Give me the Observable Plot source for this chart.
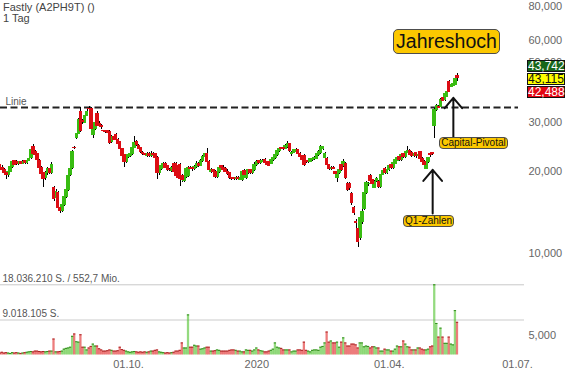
<!DOCTYPE html>
<html><head><meta charset="utf-8">
<script src="https://cdn.jsdelivr.net/npm/d3@7"></script>
<script src="https://cdn.jsdelivr.net/npm/@observablehq/plot@0.6"></script>
<style>
body{margin:0;background:#fff;}
#wrap{position:relative;width:568px;height:375px;overflow:hidden;font-family:"Liberation Sans",Arial,sans-serif;background:#fff;}
#wrap svg{position:absolute;left:0;overflow:visible;background:transparent;}
.t{position:absolute;color:#444;font-size:11px;line-height:11px;white-space:nowrap;}
.box{position:absolute;background:#fcc800;border:1px solid #4d4d4d;border-radius:4px;text-align:center;color:#111;white-space:nowrap;box-sizing:border-box;}
.q{position:absolute;left:527px;width:38px;height:12px;font-size:12px;line-height:11px;text-align:center;box-sizing:border-box;border:1px solid #111;}
</style></head><body><div id="wrap"></div>
<script>
const title = "Fastly (A2PH9T) ()";
const period = "1 Tag";
const startDate = "2019-07-04";
const endDate = "2020-07-01";
const holidays = ["2019-12-24","2019-12-25","2019-12-26","2019-12-31","2020-01-01","2020-04-10","2020-04-13","2020-05-01"];
// [open, high, low, close], one row per trading day
const candles = [
[20.6,21.3,20.3,21.0],[21.0,21.2,20.3,20.5],[20.6,20.9,19.9,20.2],[20.2,20.4,19.4,19.6],[19.7,19.8,18.6,19.3],
[19.3,20.1,19.0,19.9],[19.9,20.9,19.8,20.7],[20.7,21.8,20.5,21.6],[21.7,21.9,20.9,21.1],[21.6,21.8,21.0,21.2],
[21.2,21.7,21.0,21.5],[21.5,21.7,21.1,21.3],[21.3,21.8,21.1,21.6],[21.7,21.9,21.2,21.4],[21.4,22.0,21.2,21.8],
[21.8,22.4,21.6,22.2],[22.3,24.2,22.1,23.8],[24.4,25.0,22.8,23.0],[23.4,23.8,22.6,22.9],[23.0,23.2,21.6,21.9],
[21.8,22.0,20.4,20.6],[20.6,20.8,19.3,19.5],[19.6,19.8,17.4,18.7],[18.8,19.9,18.5,19.6],[19.6,20.6,19.3,20.3],
[20.3,20.5,19.4,19.6],[19.7,21.4,19.5,21.0],[17.3,17.5,15.5,15.8],[15.9,17.1,15.6,16.8],[16.6,16.8,14.4,14.7],
[14.7,15.1,14.0,14.3],[14.3,15.3,14.1,15.0],[15.0,16.4,14.9,16.1],[16.1,17.3,15.9,17.0],[17.0,19.4,16.8,19.1],
[19.3,20.6,19.1,20.4],[20.5,23.7,20.3,23.4],[24.3,24.5,24.0,24.2],[26.4,27.5,26.1,27.3],[27.4,31.2,27.2,30.8],
[32.9,34.0,27.6,28.0],[30.5,30.8,29.5,30.2],[30.0,32.2,29.8,31.8],[31.8,33.4,31.5,32.8],[33.8,34.4,33.0,33.6],
[33.6,34.0,28.2,28.5],[27.0,28.6,26.2,28.3],[28.5,30.4,28.2,30.0],[32.3,33.0,29.0,29.3],[29.8,30.2,28.8,29.1],
[29.3,29.5,28.4,28.9],[28.0,28.2,27.6,27.9],[27.9,28.1,27.5,27.8],[27.9,28.2,27.4,27.6],[27.8,28.0,25.0,25.3],
[25.6,26.9,25.3,26.6],[26.6,27.0,25.8,26.0],[27.0,27.3,25.7,26.0],[26.0,26.3,25.0,25.2],[25.5,25.7,23.8,24.1],
[24.0,24.2,22.3,22.6],[22.8,23.0,20.6,21.6],[21.6,22.8,21.3,22.5],[22.5,23.1,22.2,22.9],[22.6,23.3,22.4,23.1],
[23.0,24.6,22.8,24.3],[24.3,26.7,24.1,25.4],[25.5,25.9,24.5,24.8],[24.6,24.9,23.9,24.1],[24.2,24.4,23.2,23.4],
[23.3,23.5,22.8,23.0],[23.0,23.2,22.7,22.9],[22.7,23.3,22.4,23.0],[23.1,23.4,22.4,22.7],[22.7,23.5,22.5,23.1],
[23.1,23.4,22.6,22.8],[23.0,23.2,22.0,22.3],[22.4,22.6,18.7,19.6],[19.6,20.6,19.3,20.3],[20.3,21.0,20.1,20.8],
[20.8,21.5,20.5,21.3],[21.2,21.4,20.4,20.6],[20.8,21.0,19.9,20.1],[20.2,20.4,19.9,20.1],[20.0,20.7,19.8,20.5],
[21.2,21.5,19.6,19.8],[21.3,21.5,19.0,19.2],[20.9,21.2,18.6,18.9],[21.0,21.3,17.6,18.7],[19.2,19.5,18.2,18.5],
[18.4,19.3,18.1,19.1],[19.0,20.5,18.8,20.3],[19.2,20.8,19.0,20.5],[20.5,20.7,20.2,20.4],[20.6,20.8,20.0,20.3],
[20.3,20.9,20.1,20.7],[20.7,21.6,20.5,21.3],[21.3,21.5,20.6,20.9],[20.9,22.0,20.7,21.8],[21.7,22.8,21.5,22.5],
[22.5,23.2,22.2,23.0],[23.0,24.2,21.3,21.6],[21.6,21.8,20.0,20.2],[19.9,20.5,19.6,20.2],[20.1,20.3,19.6,19.8],
[19.9,20.1,18.8,19.0],[19.0,20.1,18.8,19.8],[19.8,20.8,19.6,20.5],[20.8,21.0,20.3,20.5],[20.6,20.9,20.0,20.2],
[20.3,20.6,19.7,19.9],[19.9,20.2,19.3,19.5],[19.6,19.8,18.7,18.9],[18.8,18.9,18.4,18.7],[18.8,19.0,18.5,18.7],
[18.7,19.1,18.5,18.9],[18.9,19.1,18.5,18.7],[18.6,19.2,18.4,18.9],[18.5,20.1,18.3,19.8],[20.0,20.2,19.1,19.3],
[18.9,20.0,18.6,19.8],[19.8,20.3,19.5,20.1],[20.1,20.3,19.4,19.6],[19.6,20.4,19.4,20.2],[20.2,21.4,20.0,21.1],
[21.0,21.8,20.7,21.6],[21.7,21.9,21.2,21.4],[21.4,22.0,21.2,21.7],[21.6,22.0,21.4,21.8],[21.9,22.2,21.2,21.4],
[21.5,21.7,20.9,21.1],[21.6,21.8,20.7,20.9],[21.3,22.2,21.1,21.9],[21.9,22.5,21.7,22.3],[22.3,23.1,22.1,22.9],
[22.8,23.8,22.6,23.6],[23.6,24.3,23.4,24.0],[24.2,24.4,23.9,24.1],[24.3,24.6,23.8,24.0],[24.1,25.0,23.9,24.7],
[24.4,25.6,24.2,25.0],[25.0,25.2,23.4,23.6],[23.0,23.6,22.6,23.3],[23.3,24.0,23.1,23.8],[23.5,24.1,23.2,23.9],
[23.8,24.0,22.9,23.1],[23.1,23.3,22.3,22.5],[22.6,22.8,21.8,22.0],[22.7,22.9,20.7,21.0],[21.7,21.9,21.3,21.6],
[21.5,22.0,21.3,21.7],[21.6,22.3,21.4,22.1],[21.9,22.5,21.7,22.2],[22.1,22.6,21.9,22.4],[22.2,23.2,22.0,23.0],
[22.8,23.8,22.6,23.5],[23.2,24.8,23.0,24.5],[24.0,24.6,23.8,24.4],[22.4,23.3,22.2,23.0],[22.2,22.4,20.8,21.1],
[21.0,21.2,20.1,20.3],[20.3,20.7,20.1,20.5],[20.6,20.8,20.2,20.4],[19.8,20.0,19.3,19.5],[18.8,19.7,18.1,19.5],
[19.6,20.4,19.4,20.2],[21.0,21.2,20.0,20.2],[20.8,22.1,20.6,21.6],[21.2,21.4,18.7,18.9],[18.0,18.2,16.8,17.0],
[18.0,18.1,17.0,17.3],[16.5,16.7,15.0,15.3],[14.7,14.9,13.8,14.0],[13.0,13.3,12.1,12.9],[12.3,12.5,10.5,11.0],
[11.4,13.7,11.2,13.5],[13.0,14.5,12.8,14.2],[14.5,16.9,14.3,16.6],[16.6,18.3,16.4,18.1],[17.9,18.2,17.6,18.0],
[19.2,19.5,18.2,18.4],[18.5,18.7,17.8,18.0],[17.4,18.5,17.2,18.3],[18.4,18.9,18.2,18.7],[18.2,18.4,17.3,17.5],
[17.5,19.5,17.3,19.3],[19.4,20.3,19.2,20.0],[20.4,20.6,19.5,19.7],[19.6,20.4,19.4,20.2],[20.1,21.0,19.9,20.8],
[21.0,21.2,20.3,20.5],[20.5,21.6,20.3,21.4],[21.3,22.1,21.1,21.9],[21.8,22.6,21.6,22.4],[22.5,22.7,21.7,21.9],
[21.9,23.0,21.7,22.8],[23.0,23.2,22.3,22.5],[22.5,23.6,22.3,23.4],[23.3,24.6,23.1,23.7],[23.7,23.9,22.7,22.9],
[23.3,23.5,22.5,22.7],[22.7,23.3,22.5,23.1],[23.2,23.4,22.3,22.6],[22.6,23.1,22.4,22.9],[23.4,23.6,21.9,22.1],
[22.2,22.4,21.4,21.6],[21.6,21.8,20.9,21.1],[20.4,21.7,20.2,21.5],[21.5,22.5,21.3,22.3],[23.0,23.2,22.5,22.8],
[23.2,23.4,22.8,23.0],[29.1,33.8,26.3,33.5],[33.5,35.0,33.0,34.4],[34.3,34.8,33.8,34.1],[34.2,36.8,34.0,36.4],
[37.0,37.5,35.8,36.1],[36.3,38.6,36.0,38.3],[37.4,39.4,37.0,39.0],[42.4,42.9,38.8,39.0],[40.6,41.8,40.2,41.3],
[41.0,42.0,40.6,41.6],[41.3,44.0,41.0,43.4],[44.6,45.2,42.6,43.742]
];
// volume, million shares
const volumes = [
0.6,0.5,0.7,0.5,0.6,0.5,0.4,0.6,0.5,0.6,0.5,0.4,0.5,0.6,0.7,
0.8,0.9,0.8,1.0,1.0,0.9,0.8,0.9,0.8,0.9,1.0,1.0,
4.1,0.8,0.8,0.9,1.0,1.5,1.7,1.8,2.0,
4.8,5.4,3.4,3.3,5.2,2.0,2.0,1.3,1.8,
2.2,2.8,2.3,2.3,1.6,1.3,1.0,1.0,1.1,1.3,
1.2,1.0,1.0,1.1,2.0,1.4,1.2,1.0,
0.8,0.7,0.8,0.9,0.8,0.7,0.8,0.7,0.8,0.7,0.8,
1.0,1.0,1.2,1.3,
0.8,0.7,0.6,0.5,0.6,0.5,0.6,
0.7,1.0,1.0,1.2,3.1,1.8,1.8,
10.3,2.0,2.0,2.5,2.3,2.3,1.5,1.6,1.8,2.0,2.0,
1.0,1.0,1.1,1.3,1.2,1.0,1.0,1.0,1.0,1.2,1.3,1.3,1.2,1.0,1.0,
0.8,0.8,1.3,1.2,1.2,1.0,1.3,1.8,1.3,1.1,1.0,0.8,0.8,1.0,1.2,1.5,
3.1,2.0,1.8,1.7,1.3,1.3,1.3,1.3,0.8,1.0,1.0,1.3,1.3,1.2,
3.3,1.2,1.0,0.8,1.2,1.3,1.3,1.2,2.0,2.2,3.1,
5.9,3.3,3.6,3.1,3.1,3.3,2.0,3.3,4.4,3.1,
2.3,2.3,2.8,2.8,2.6,1.8,3.1,3.1,2.1,2.3,2.2,
1.8,2.1,2.1,1.8,1.8,1.0,1.0,1.5,1.3,1.3,1.0,
1.0,1.5,2.3,2.1,2.1,3.6,2.8,2.1,2.0,1.3,
1.3,1.3,1.8,1.8,1.5,1.3,1.3,1.5,2.1,2.3,
18.03621,8.1,4.6,6.9,4.6,3.0,3.0,4.6,2.8,2.6,11.4,8.4
];
const priceTicks = [10,20,30,50,60,80];
const volumeTicks = [5];
const xTickDates = ["2019-10-01","2020-01-01","2020-04-01","2020-07-01"];
const xTickLabels = ["01.10.","2020","01.04.","01.07."];
const lineLevel = 34.1;
const lineLabel = "Linie";
const quotes = [43.742, 43.115, 42.488];
const turnover = "552,7 Mio.";
const headline = "Jahreshoch";
const notes = [
  {text:"Capital-Pivotal", date:"2020-05-19", from:26.3, to:37.0},
  {text:"Q1-Zahlen", date:"2020-05-05", from:14.0, to:20.2}
];

// trading calendar
const hol = new Set(holidays);
const tradingDays = [];
for (let d = new Date(startDate+"T00:00:00Z"); d <= new Date(endDate+"T00:00:00Z"); d.setUTCDate(d.getUTCDate()+1)) {
  const wd = d.getUTCDay(), s = d.toISOString().slice(0,10);
  if (wd > 0 && wd < 6 && !hol.has(s)) tradingDays.push(s);
}
const idxOf = s => tradingDays.findIndex(t => t >= s);
const rows = candles.map(([o,h,l,c], i) => ({i, date: tradingDays[i], o, h, l, c, v: volumes[i]}));
const up = rows.filter(d => d.c >= d.o), down = rows.filter(d => d.c < d.o);
const xTicks = xTickDates.map((s, k) => ({i: idxOf(s), label: xTickLabels[k]}));
const xScale = {domain: [xTicks[0].i, xTicks[3].i], range: [128, 517], axis: null};

const de = d3.formatLocale({decimal: ",", thousands: ".", grouping: [3], currency: ["", "€"]});
const f3 = de.format(",.3f"), fInt = de.format(",d");
const GREEN = "#38bc12", RED = "#dc0d14";
const half = 0.85;

const wrap = document.getElementById("wrap");

const price = Plot.plot({
  width: 568, height: 280, margin: 0, marginRight: 50,
  style: {fontFamily: "Liberation Sans, Arial, sans-serif", fontSize: "11px", background: "transparent"},
  x: xScale,
  y: {type: "log", domain: [10, 80], range: [253, 253 - 274 * Math.log10(8)], axis: null},
  marks: [
    Plot.ruleY([lineLevel], {stroke: "#222", strokeWidth: 2, strokeDasharray: "7,3.5"}),
    Plot.text([lineLevel], {y: d => d, frameAnchor: "left", dx: 5, dy: -6, text: () => lineLabel, textAnchor: "start", fill: "#555", fontSize: 10}),
    Plot.ruleX(rows, {x: "i", y1: "l", y2: "h", stroke: "#000", strokeWidth: 1, shapeRendering: "crispEdges"}),
    Plot.rect(up, {x1: d => d.i - half, x2: d => d.i + half, y1: "o", y2: "c", fill: GREEN, insetTop: -0.5, insetBottom: -0.5, shapeRendering: "crispEdges"}),
    Plot.rect(down, {x1: d => d.i - half, x2: d => d.i + half, y1: "o", y2: "c", fill: RED, insetTop: -0.5, insetBottom: -0.5, shapeRendering: "crispEdges"}),
    Plot.arrow(notes, {x1: d => idxOf(d.date), x2: d => idxOf(d.date), y1: "from", y2: "to", stroke: "#111", strokeWidth: 2, headAngle: 80, headLength: 11}),
    Plot.text(priceTicks, {y: d => d, frameAnchor: "right", dx: 10, textAnchor: "start", text: d => f3(d), fill: "#666", fontSize: 11})
  ]
});
price.style.top = "0px";
wrap.appendChild(price);

const vmax = d3.max(volumes);
const vol = Plot.plot({
  width: 568, height: 95, margin: 0, marginRight: 44, marginBottom: 20,
  style: {fontFamily: "Liberation Sans, Arial, sans-serif", fontSize: "11px", background: "transparent"},
  x: xScale,
  y: {domain: [0, vmax], range: [74.5, 4.3], axis: null},
  marks: [
    Plot.ruleY([vmax], {stroke: "#c8c8c8", strokeWidth: 1}),
    Plot.ruleY([vmax / 2], {stroke: "#dcdcdc", strokeWidth: 1.5}),
    Plot.rect(up, {x1: d => d.i - 0.55, x2: d => d.i + 0.55, y1: 0, y2: "v", fill: "#4cc22a", fillOpacity: 0.6}),
    Plot.rect(down, {x1: d => d.i - 0.55, x2: d => d.i + 0.55, y1: 0, y2: "v", fill: "#e02525", fillOpacity: 0.6}),
    Plot.ruleY(up, {x1: d => d.i - 0.55, x2: d => d.i + 0.55, y: "v", stroke: "#2f8a1a", strokeWidth: 1}),
    Plot.ruleY(down, {x1: d => d.i - 0.55, x2: d => d.i + 0.55, y: "v", stroke: "#a82424", strokeWidth: 1}),
    Plot.text([vmax], {y: d => d, frameAnchor: "left", dx: 2, dy: -6, textAnchor: "start", fill: "#555", fontSize: 10,
      text: d => fInt(Math.round(d * 1e6)) + " S. / " + turnover}),
    Plot.text([vmax / 2], {y: d => d, frameAnchor: "left", dx: 2, dy: -6, textAnchor: "start", fill: "#555", fontSize: 10,
      text: d => fInt(Math.round(d * 1e6)) + " S."}),
    Plot.text(volumeTicks, {y: d => d, frameAnchor: "right", dx: 4, textAnchor: "start", text: d => f3(d), fill: "#666", fontSize: 11}),
    Plot.text(xTicks, {x: "i", frameAnchor: "bottom", dy: 12, text: "label", fill: "#666", fontSize: 11})
  ]
});
vol.style.top = "280px";
wrap.appendChild(vol);

function addDiv(cls, css, text) {
  const el = document.createElement("div");
  el.className = cls; el.style.cssText = css; el.textContent = text;
  wrap.appendChild(el); return el;
}
addDiv("t", "left:3px;top:2px;", title);
addDiv("t", "left:3px;top:13px;", period);
addDiv("box", "left:393px;top:29px;width:107px;height:25px;font-size:19.5px;line-height:23px;border-width:1.5px;border-radius:5px;", headline);
addDiv("box", "left:439px;top:137px;width:69px;height:12px;font-size:10px;line-height:10px;border-radius:4px;", notes[0].text);
addDiv("box", "left:403px;top:215px;width:51px;height:12px;font-size:10px;line-height:10px;border-radius:4px;", notes[1].text);
const qStyle = [
  "top:60px;background:#17661a;color:#fff;",
  "top:73px;background:#ffff00;color:#111;",
  "top:86px;background:#e30613;color:#fff;"
];
quotes.forEach((q, k) => addDiv("q", qStyle[k], f3(q)));
</script></body></html>
